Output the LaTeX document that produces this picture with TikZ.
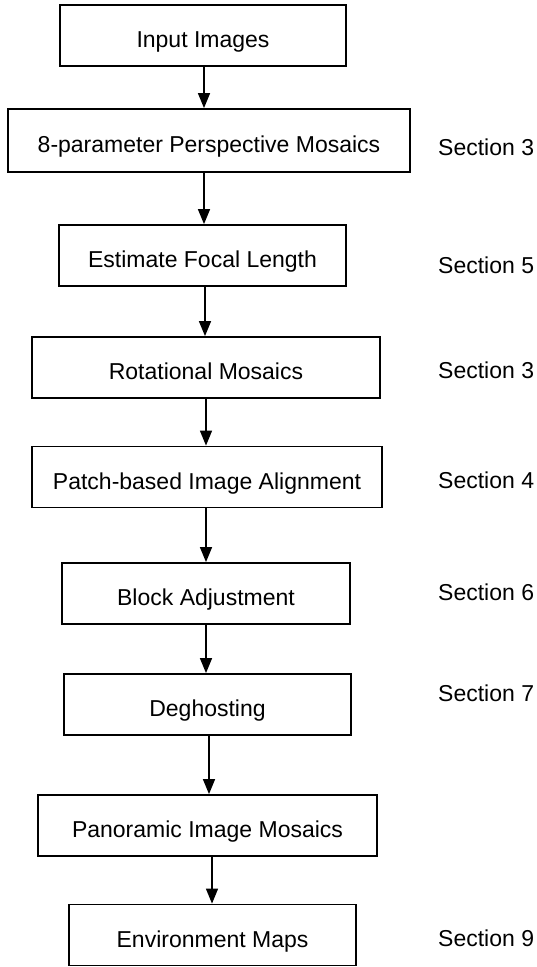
\documentclass[tikz,border=0pt]{standalone}
\usepackage{fontspec}
\setmainfont{Liberation Sans}
\usetikzlibrary{arrows.meta}
\begin{document}
\begin{tikzpicture}[x=1pt,y=-1pt,
  box/.style={draw, line width=1.8pt, minimum width=#1, minimum height=61pt,
    inner sep=0pt, text height=24.5pt, text depth=0pt, font=\fontsize{23}{27}\selectfont},
  sect/.style={anchor=west, inner sep=0pt, font=\fontsize{23}{27}\selectfont},
  arr/.style={line width=1.4pt, -{Triangle[length=15pt,width=12pt]}}]
\useasboundingbox (0,0) rectangle (536,967);
\node[box=286pt] (b1) at (203,35.5) {Input Images};
\node[box=402pt, minimum height=63pt] (b2) at (209,140.5) {8-parameter Perspective Mosaics};
\node[box=287pt] (b3) at (202.5,255.5) {Estimate Focal Length};
\node[box=348pt] (b4) at (206,367.5) {Rotational Mosaics};
\node[box=350pt] (b5) at (207,477) {Patch-based Image Alignment};
\node[box=288pt] (b6) at (206,593.5) {Block Adjustment};
\node[box=287pt] (b7) at (207.5,704.5) {Deghosting};
\node[box=339pt] (b8) at (207.5,825.5) {Panoramic Image Mosaics};
\node[box=287pt] (b9) at (212.5,935) {Environment Maps};

\node[sect] (s1) at (438,147) {Section 3};
\node[sect] (s2) at (438,265) {Section 5};
\node[sect] (s3) at (438,370) {Section 3};
\node[sect] (s4) at (438,480) {Section 4};
\node[sect] (s5) at (438,592) {Section 6};
\node[sect] (s6) at (438,693) {Section 7};
\node[sect] (s7) at (438,938) {Section 9};

\coordinate (x1) at (204,0);
\coordinate (x2) at (204,0);
\coordinate (x3) at (205,0);
\coordinate (x4) at (206,0);
\coordinate (x5) at (206,0);
\coordinate (x6) at (206,0);
\coordinate (x7) at (209,0);
\coordinate (x8) at (212,0);
\draw[arr] (b1.south -| x1) -- (b2.north -| x1);
\draw[arr] (b2.south -| x2) -- (b3.north -| x2);
\draw[arr] (b3.south -| x3) -- (b4.north -| x3);
\draw[arr] (b4.south -| x4) -- (b5.north -| x4);
\draw[arr] (b5.south -| x5) -- (b6.north -| x5);
\draw[arr] (b6.south -| x6) -- (b7.north -| x6);
\draw[arr] (b7.south -| x7) -- (b8.north -| x7);
\draw[arr] (b8.south -| x8) -- (b9.north -| x8);
\end{tikzpicture}
\end{document}
